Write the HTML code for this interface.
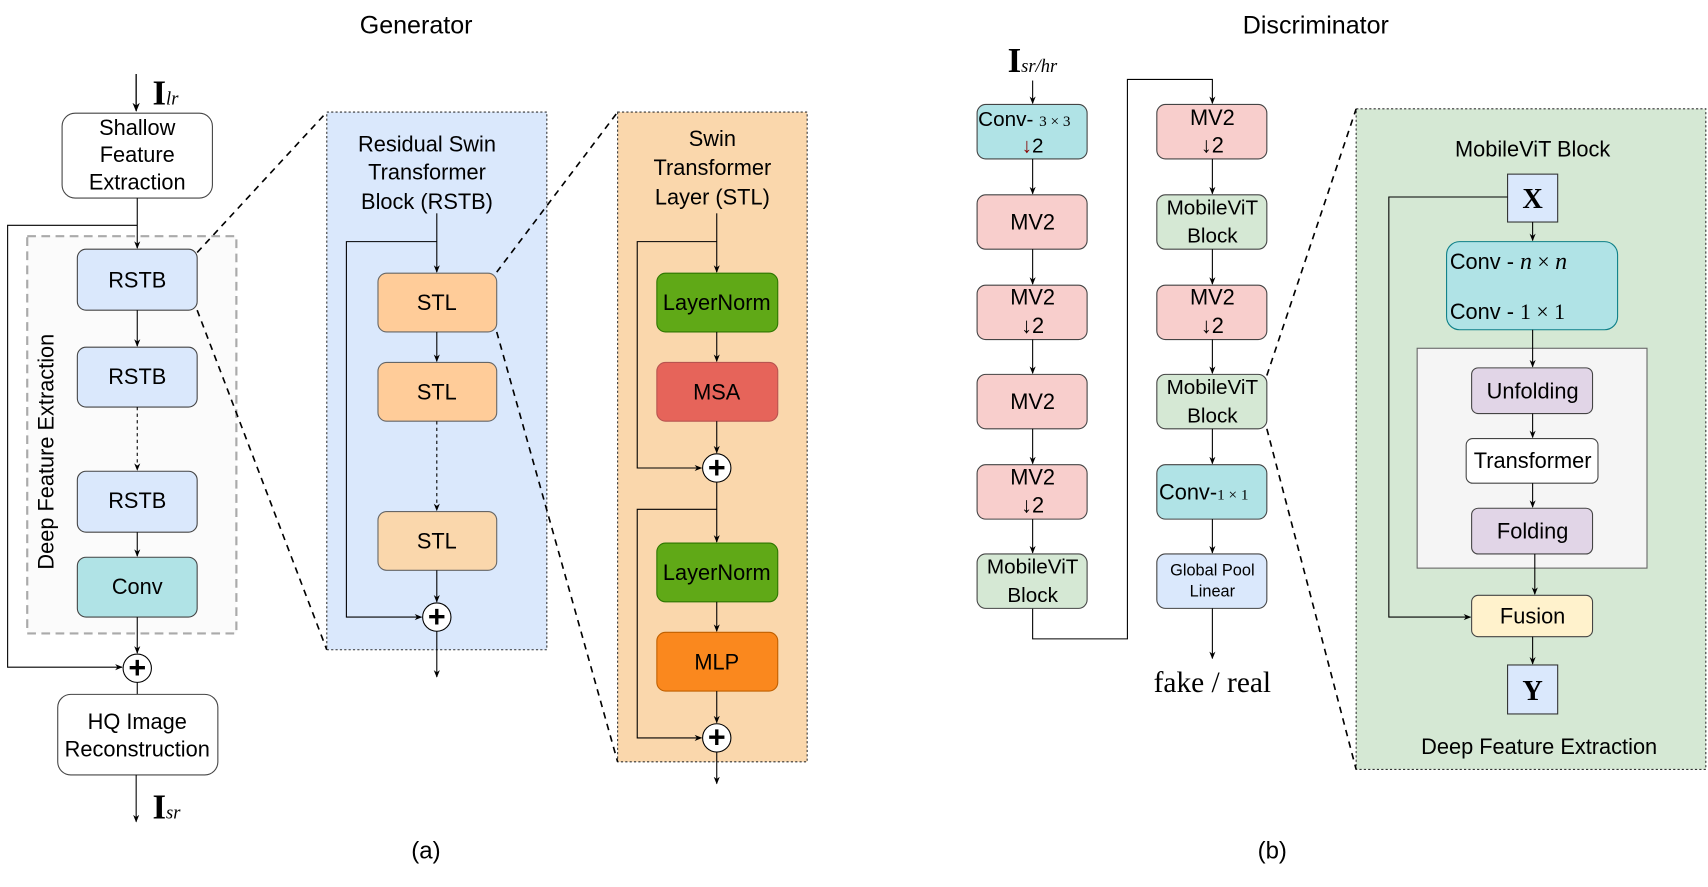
<!DOCTYPE html>
<html><head><meta charset="utf-8"><style>
html,body{margin:0;padding:0;background:#fff;}
svg{display:block;}
text{font-family:"Liberation Sans",sans-serif;fill:#000;}
.s{font-family:"Liberation Serif",serif;}
</style></head><body>
<svg width="1708" height="887" viewBox="0 0 1568 815" preserveAspectRatio="none" xmlns="http://www.w3.org/2000/svg">
<defs>
<marker id="a" viewBox="0 0 10 10" refX="9" refY="5" markerWidth="7" markerHeight="7" orient="auto"><path d="M0,1 L10,5 L0,9 L3,5 z" fill="#000"/></marker>
</defs>
<g font-size="20" text-anchor="middle">
<!-- Generator -->
<text x="382" y="31" font-size="23">Generator</text>
<line x1="125" y1="68" x2="125" y2="102" stroke="#000" stroke-width="1.2" marker-end="url(#a)"/>
<text x="140" y="96" class="s" font-size="32" font-weight="bold" text-anchor="start">I<tspan font-size="17" font-style="italic" font-weight="normal">lr</tspan></text>
<rect x="57" y="104" width="138" height="78" rx="12" fill="#fff" stroke="#444"/>
<text x="126" y="124">Shallow</text><text x="126" y="149">Feature</text><text x="126" y="174">Extraction</text>
<rect x="25" y="217" width="192" height="365" fill="#f8f8f8" fill-opacity="0.5" stroke="#aaa" stroke-width="2" stroke-dasharray="8,5"/>
<text transform="translate(49,415) rotate(-90)">Deep Feature Extraction</text>
<line x1="126" y1="182" x2="126" y2="228" stroke="#000" marker-end="url(#a)"/>
<polyline points="126,207 7,207 7,613 112,613" fill="none" stroke="#000" marker-end="url(#a)"/>
<rect x="71" y="229" width="110" height="56" rx="8" fill="#dae8fc" stroke="#444"/><text x="126" y="264">RSTB</text>
<line x1="126" y1="285" x2="126" y2="318" stroke="#000" marker-end="url(#a)"/>
<rect x="71" y="319" width="110" height="55" rx="8" fill="#dae8fc" stroke="#444"/><text x="126" y="353">RSTB</text>
<line x1="126" y1="374" x2="126" y2="432" stroke="#000" stroke-dasharray="3,3" marker-end="url(#a)"/>
<rect x="71" y="433" width="110" height="56" rx="8" fill="#dae8fc" stroke="#444"/><text x="126" y="467">RSTB</text>
<line x1="126" y1="489" x2="126" y2="511" stroke="#000" marker-end="url(#a)"/>
<rect x="71" y="512" width="110" height="55" rx="8" fill="#b0e3e6" stroke="#444"/><text x="126" y="546">Conv</text>
<line x1="126" y1="567" x2="126" y2="600" stroke="#000" marker-end="url(#a)"/>
<circle cx="126" cy="614" r="13" fill="#fff" stroke="#000"/><text x="126" y="623" font-size="28" font-weight="bold">+</text>
<line x1="126" y1="627" x2="126" y2="638" stroke="#000"/>
<rect x="53" y="638" width="147" height="74" rx="12" fill="#fff" stroke="#444"/>
<text x="126" y="670">HQ Image</text><text x="126" y="695">Reconstruction</text>
<line x1="125" y1="712" x2="125" y2="755" stroke="#000" marker-end="url(#a)"/>
<text x="140" y="752" class="s" font-size="32" font-weight="bold" text-anchor="start">I<tspan font-size="17" font-style="italic" font-weight="normal">sr</tspan></text>
<text x="391" y="789" font-size="22">(a)</text>

<!-- RSTB panel -->
<rect x="300" y="103" width="202" height="494" fill="#dae8fc" stroke="#333" stroke-dasharray="2,2"/>
<line x1="181" y1="232" x2="300" y2="103" stroke="#000" stroke-width="1.5" stroke-dasharray="6,5"/>
<line x1="181" y1="285" x2="300" y2="597" stroke="#000" stroke-width="1.5" stroke-dasharray="6,5"/>
<text x="392" y="139">Residual Swin</text><text x="392" y="165">Transformer</text><text x="392" y="192">Block (RSTB)</text>
<line x1="401" y1="196" x2="401" y2="250" stroke="#000" marker-end="url(#a)"/>
<polyline points="401,222 318,222 318,567 387,567" fill="none" stroke="#000" marker-end="url(#a)"/>
<rect x="347" y="251" width="109" height="54" rx="8" fill="#ffcc99" stroke="#666"/><text x="401" y="285">STL</text>
<line x1="401" y1="305" x2="401" y2="332" stroke="#000" marker-end="url(#a)"/>
<rect x="347" y="333" width="109" height="54" rx="8" fill="#ffcc99" stroke="#666"/><text x="401" y="367">STL</text>
<line x1="401" y1="387" x2="401" y2="469" stroke="#000" stroke-dasharray="3,3" marker-end="url(#a)"/>
<rect x="347" y="470" width="109" height="54" rx="8" fill="#fad7ac" stroke="#666"/><text x="401" y="504">STL</text>
<line x1="401" y1="524" x2="401" y2="553" stroke="#000" marker-end="url(#a)"/>
<circle cx="401" cy="567" r="13" fill="#fff" stroke="#000"/><text x="401" y="576" font-size="28" font-weight="bold">+</text>
<line x1="401" y1="580" x2="401" y2="622" stroke="#000" marker-end="url(#a)"/>

<!-- STL panel -->
<rect x="567" y="103" width="174" height="597" fill="#fad7ac" stroke="#333" stroke-dasharray="2,2"/>
<line x1="456" y1="250" x2="567" y2="103" stroke="#000" stroke-width="1.5" stroke-dasharray="6,5"/>
<line x1="456" y1="305" x2="567" y2="700" stroke="#000" stroke-width="1.5" stroke-dasharray="6,5"/>
<text x="654" y="134">Swin</text><text x="654" y="161">Transformer</text><text x="654" y="188">Layer (STL)</text>
<line x1="658" y1="196" x2="658" y2="250" stroke="#000" marker-end="url(#a)"/>
<polyline points="658,222 585,222 585,430 644,430" fill="none" stroke="#000" marker-end="url(#a)"/>
<rect x="603" y="251" width="111" height="54" rx="8" fill="#60a917" stroke="#2d7600"/><text x="658" y="285">LayerNorm</text>
<line x1="658" y1="305" x2="658" y2="332" stroke="#000" marker-end="url(#a)"/>
<rect x="603" y="333" width="111" height="54" rx="8" fill="#e6645a" stroke="#b85450"/><text x="658" y="367">MSA</text>
<line x1="658" y1="387" x2="658" y2="416" stroke="#000" marker-end="url(#a)"/>
<circle cx="658" cy="430" r="13" fill="#fff" stroke="#000"/><text x="658" y="439" font-size="28" font-weight="bold">+</text>
<line x1="658" y1="443" x2="658" y2="498" stroke="#000" marker-end="url(#a)"/>
<polyline points="658,468 585,468 585,678 644,678" fill="none" stroke="#000" marker-end="url(#a)"/>
<rect x="603" y="499" width="111" height="54" rx="8" fill="#60a917" stroke="#2d7600"/><text x="658" y="533">LayerNorm</text>
<line x1="658" y1="553" x2="658" y2="580" stroke="#000" marker-end="url(#a)"/>
<rect x="603" y="581" width="111" height="54" rx="8" fill="#fa881e" stroke="#c06000"/><text x="658" y="615">MLP</text>
<line x1="658" y1="635" x2="658" y2="664" stroke="#000" marker-end="url(#a)"/>
<circle cx="658" cy="678" r="13" fill="#fff" stroke="#000"/><text x="658" y="687" font-size="28" font-weight="bold">+</text>
<line x1="658" y1="691" x2="658" y2="720" stroke="#000" marker-end="url(#a)"/>

<!-- Discriminator -->
<text x="1208" y="31" font-size="23">Discriminator</text>
<text x="925" y="66" class="s" font-size="32" font-weight="bold" text-anchor="start">I<tspan font-size="17" font-style="italic" font-weight="normal">sr/hr</tspan></text>
<line x1="948" y1="74" x2="948" y2="95" stroke="#000" marker-end="url(#a)"/>
<polyline points="948,559 948,587 1035,587 1035,73 1113,73 1113,95" fill="none" stroke="#000" marker-end="url(#a)"/>
<g stroke="#444">
<rect x="897" y="96" width="101" height="50" rx="8" fill="#b0e3e6"/>
<rect x="897" y="179" width="101" height="50" rx="8" fill="#f8cecc"/>
<rect x="897" y="262" width="101" height="50" rx="8" fill="#f8cecc"/>
<rect x="897" y="344" width="101" height="50" rx="8" fill="#f8cecc"/>
<rect x="897" y="427" width="101" height="50" rx="8" fill="#f8cecc"/>
<rect x="897" y="509" width="101" height="50" rx="8" fill="#d5e8d4"/>
<rect x="1062" y="96" width="101" height="50" rx="8" fill="#f8cecc"/>
<rect x="1062" y="179" width="101" height="50" rx="8" fill="#d5e8d4"/>
<rect x="1062" y="262" width="101" height="50" rx="8" fill="#f8cecc"/>
<rect x="1062" y="344" width="101" height="50" rx="8" fill="#d5e8d4"/>
<rect x="1062" y="427" width="101" height="50" rx="8" fill="#b0e3e6"/>
<rect x="1062" y="509" width="101" height="50" rx="8" fill="#dae8fc"/>
</g>
<g stroke="#000" marker-end="url(#a)">
<line x1="948" y1="146" x2="948" y2="178"/><line x1="948" y1="229" x2="948" y2="261"/>
<line x1="948" y1="312" x2="948" y2="343"/><line x1="948" y1="394" x2="948" y2="426"/>
<line x1="948" y1="477" x2="948" y2="508"/>
<line x1="1113" y1="146" x2="1113" y2="178"/><line x1="1113" y1="229" x2="1113" y2="261"/>
<line x1="1113" y1="312" x2="1113" y2="343"/><line x1="1113" y1="394" x2="1113" y2="426"/>
<line x1="1113" y1="477" x2="1113" y2="508"/><line x1="1113" y1="559" x2="1113" y2="605"/>
</g>
<text x="898" y="116" text-anchor="start" font-size="19">Conv- <tspan class="s" font-size="14">3 × 3</tspan></text>
<text x="948" y="140" font-size="19"><tspan fill="#800">↓</tspan>2</text>
<text x="948" y="211">MV2</text>
<text x="948" y="280">MV2</text><text x="948" y="306">↓2</text>
<text x="948" y="376">MV2</text>
<text x="948" y="445">MV2</text><text x="948" y="471">↓2</text>
<text x="948" y="527" font-size="19">MobileViT</text><text x="948" y="553" font-size="19">Block</text>
<text x="1113" y="115">MV2</text><text x="1113" y="140">↓2</text>
<text x="1113" y="197" font-size="19">MobileViT</text><text x="1113" y="223" font-size="19">Block</text>
<text x="1113" y="280">MV2</text><text x="1113" y="306">↓2</text>
<text x="1113" y="362" font-size="19">MobileViT</text><text x="1113" y="388" font-size="19">Block</text>
<text x="1064" y="459" text-anchor="start">Conv-<tspan class="s" font-size="14">1 × 1</tspan></text>
<text x="1113" y="529" font-size="15">Global Pool</text><text x="1113" y="548" font-size="15">Linear</text>
<text x="1113" y="636" class="s" font-size="27">fake / real</text>
<text x="1168" y="789" font-size="22">(b)</text>

<!-- MobileViT panel -->
<rect x="1245" y="100" width="321" height="607" fill="#d5e8d4" stroke="#333" stroke-dasharray="2,2"/>
<line x1="1163" y1="345" x2="1245" y2="100" stroke="#000" stroke-width="1.5" stroke-dasharray="6,5"/>
<line x1="1163" y1="394" x2="1245" y2="707" stroke="#000" stroke-width="1.5" stroke-dasharray="6,5"/>
<text x="1407" y="144">MobileViT Block</text>
<rect x="1384" y="160" width="46" height="44" fill="#dae8fc" stroke="#333"/>
<text x="1407" y="191" class="s" font-size="26" font-weight="bold">X</text>
<polyline points="1384,181 1275,181 1275,567 1350,567" fill="none" stroke="#000" marker-end="url(#a)"/>
<line x1="1407" y1="204" x2="1407" y2="221" stroke="#000" marker-end="url(#a)"/>
<rect x="1328" y="222" width="157" height="81" rx="12" fill="#b0e3e6" stroke="#0e8088"/>
<text x="1331" y="247" text-anchor="start">Conv - <tspan class="s" font-style="italic" font-size="22">n</tspan><tspan class="s"> × </tspan><tspan class="s" font-style="italic" font-size="22">n</tspan></text>
<text x="1331" y="293" text-anchor="start">Conv - <tspan class="s"> 1 × 1</tspan></text>
<rect x="1301" y="320" width="211" height="202" fill="#f5f5f5" stroke="#666"/>
<line x1="1407" y1="303" x2="1407" y2="337" stroke="#000" marker-end="url(#a)"/>
<rect x="1351" y="338" width="111" height="42" rx="6" fill="#e1d5e7" stroke="#444"/><text x="1407" y="366">Unfolding</text>
<line x1="1407" y1="380" x2="1407" y2="402" stroke="#000" marker-end="url(#a)"/>
<rect x="1346" y="403" width="121" height="41" rx="6" fill="#fff" stroke="#444"/><text x="1407" y="430">Transformer</text>
<line x1="1407" y1="444" x2="1407" y2="466" stroke="#000" marker-end="url(#a)"/>
<rect x="1351" y="467" width="111" height="42" rx="6" fill="#e1d5e7" stroke="#444"/><text x="1407" y="495">Folding</text>
<line x1="1409" y1="509" x2="1409" y2="546" stroke="#000" marker-end="url(#a)"/>
<rect x="1351" y="547" width="111" height="38" rx="6" fill="#fff2cc" stroke="#444"/><text x="1407" y="573">Fusion</text>
<line x1="1407" y1="585" x2="1407" y2="610" stroke="#000" marker-end="url(#a)"/>
<rect x="1384" y="611" width="46" height="45" fill="#dae8fc" stroke="#333"/>
<text x="1407" y="643" class="s" font-size="26" font-weight="bold">Y</text>
<text x="1413" y="693">Deep Feature Extraction</text>
</g>
</svg>
</body></html>
